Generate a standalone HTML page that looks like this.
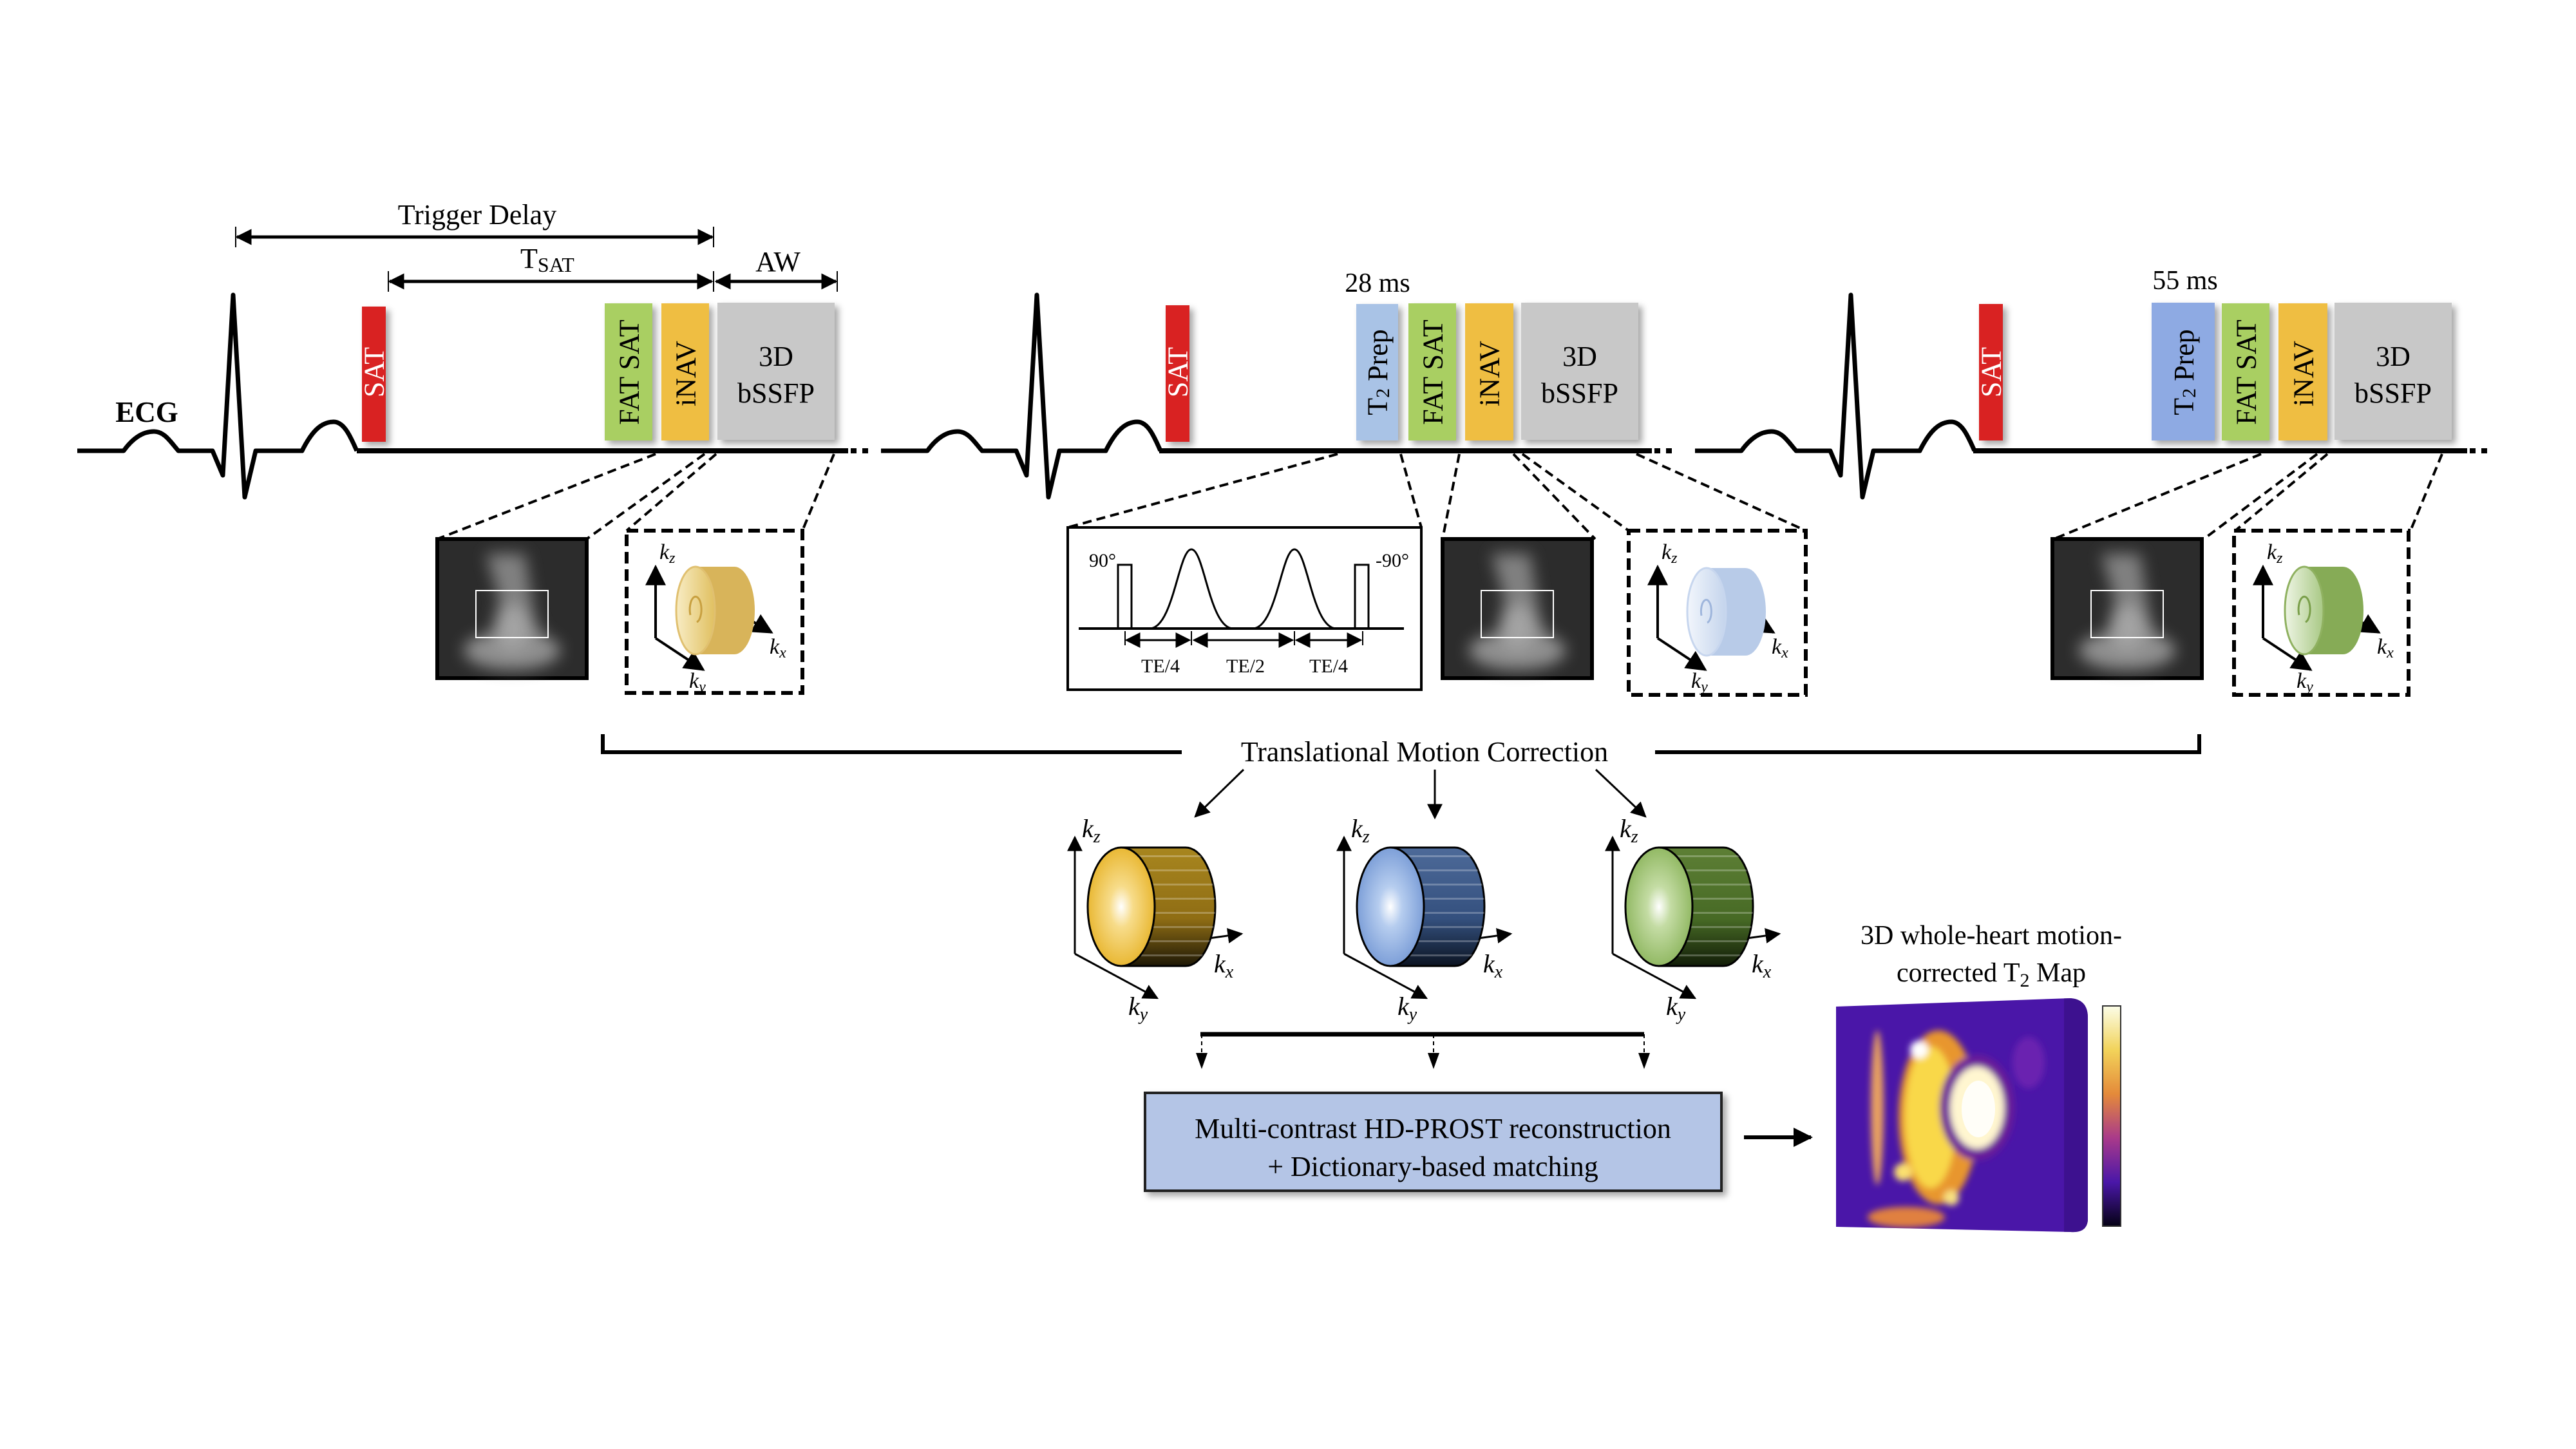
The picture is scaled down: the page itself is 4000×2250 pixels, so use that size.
<!DOCTYPE html>
<html><head><meta charset="utf-8"><style>
html,body{margin:0;padding:0;background:#fff}
svg{display:block}
text{font-family:"Liberation Serif",serif}
</style></head><body>
<svg width="4000" height="2250" viewBox="0 0 4000 2250" xmlns="http://www.w3.org/2000/svg">
<defs>
<marker id="ah" viewBox="0 0 10 10" refX="9" refY="5" markerWidth="5" markerHeight="5" orient="auto-start-reverse" markerUnits="strokeWidth"><path d="M0,0 L10,5 L0,10 z" fill="#000"/></marker>
<marker id="ah2" viewBox="0 0 10 10" refX="9" refY="5" markerWidth="8" markerHeight="8" orient="auto-start-reverse" markerUnits="strokeWidth"><path d="M0,0 L10,5 L0,10 z" fill="#000"/></marker>
<filter id="sh" x="-20%" y="-20%" width="150%" height="150%"><feDropShadow dx="6" dy="6" stdDeviation="5" flood-color="#000" flood-opacity="0.35"/></filter>
<filter id="bl" x="-50%" y="-50%" width="200%" height="200%"><feGaussianBlur stdDeviation="12"/></filter>
<filter id="bl2" x="-50%" y="-50%" width="200%" height="200%"><feGaussianBlur stdDeviation="5"/></filter>
<radialGradient id="fy" cx="50%" cy="50%" r="50%"><stop offset="0" stop-color="#fff"/><stop offset="0.35" stop-color="#f7dc8a"/><stop offset="1" stop-color="#e9b834"/></radialGradient>
<radialGradient id="fb" cx="50%" cy="50%" r="50%"><stop offset="0" stop-color="#fff"/><stop offset="0.35" stop-color="#b6cdef"/><stop offset="1" stop-color="#7d9fd8"/></radialGradient>
<radialGradient id="fg" cx="50%" cy="50%" r="50%"><stop offset="0" stop-color="#fff"/><stop offset="0.35" stop-color="#c4dca4"/><stop offset="1" stop-color="#92b964"/></radialGradient>
<linearGradient id="by" x1="0" y1="0" x2="0" y2="1"><stop offset="0" stop-color="#a8861e"/><stop offset="0.6" stop-color="#8f6d14"/><stop offset="1" stop-color="#1e1806"/></linearGradient>
<linearGradient id="bb" x1="0" y1="0" x2="0" y2="1"><stop offset="0" stop-color="#4d6a99"/><stop offset="0.6" stop-color="#34507e"/><stop offset="1" stop-color="#0c1422"/></linearGradient>
<linearGradient id="bg" x1="0" y1="0" x2="0" y2="1"><stop offset="0" stop-color="#5d7f35"/><stop offset="0.6" stop-color="#476a25"/><stop offset="1" stop-color="#121d08"/></linearGradient>
<pattern id="stripes" width="20" height="22" patternUnits="userSpaceOnUse"><rect width="20" height="22" fill="none"/><rect y="8" width="20" height="3" fill="#fff" opacity="0.25"/></pattern>
<linearGradient id="cbar" x1="0" y1="0" x2="0" y2="1"><stop offset="0" stop-color="#fbfde8"/><stop offset="0.2" stop-color="#f2d35a"/><stop offset="0.4" stop-color="#e48a3a"/><stop offset="0.6" stop-color="#a93a8a"/><stop offset="0.8" stop-color="#4a17a8"/><stop offset="1" stop-color="#050214"/></linearGradient>
<linearGradient id="cy1" x1="0" y1="0" x2="1" y2="0"><stop offset="0" stop-color="#f8ecc4"/><stop offset="1" stop-color="#e0c060"/></linearGradient>
<linearGradient id="cy2" x1="0" y1="0" x2="1" y2="0"><stop offset="0" stop-color="#f2f6fc"/><stop offset="1" stop-color="#c4d4ec"/></linearGradient>
<linearGradient id="cy3" x1="0" y1="0" x2="1" y2="0"><stop offset="0" stop-color="#eef5e4"/><stop offset="1" stop-color="#a8c884"/></linearGradient>
<clipPath id="mapclip"><path d="M2851,1563 L3215,1550 Q3242,1552 3242,1580 L3242,1895 Q3240,1915 3215,1913 L2851,1905 Z"/></clipPath>
<g id="ecg"><path d="M120,700 L192,700 C205,682 220,670 239,670 C256,670 266,688 277,700 L330,700 L346,738 L362,458 L380,772 L397,700 L469,700 C485,668 500,655 518,655 C535,655 545,680 554,700" fill="none" stroke="#000" stroke-width="7" stroke-linejoin="round"/></g>
</defs>

<use href="#ecg"/>
<use href="#ecg" transform="translate(1248,0)"/>
<use href="#ecg" transform="translate(2512,0)"/>
<line x1="554" y1="700" x2="1317" y2="700" stroke="#000" stroke-width="8"/>
<line x1="1321" y1="700" x2="1350" y2="700" stroke="#000" stroke-width="8" stroke-dasharray="9,9"/>
<line x1="1800" y1="700" x2="2565" y2="700" stroke="#000" stroke-width="8"/>
<line x1="2569" y1="700" x2="2600" y2="700" stroke="#000" stroke-width="8" stroke-dasharray="9,9"/>
<line x1="3064" y1="700" x2="3831" y2="700" stroke="#000" stroke-width="8"/>
<line x1="3835" y1="700" x2="3866" y2="700" stroke="#000" stroke-width="8" stroke-dasharray="9,9"/>
<text x="228" y="655" font-size="45" font-weight="bold" text-anchor="middle">ECG</text>

<text x="741" y="348" font-size="44" text-anchor="middle">Trigger Delay</text>
<line x1="366" y1="352" x2="366" y2="384" stroke="#000" stroke-width="2"/>
<line x1="1108" y1="352" x2="1108" y2="384" stroke="#000" stroke-width="2"/>
<line x1="368" y1="368" x2="1106" y2="368" stroke="#000" stroke-width="5" marker-start="url(#ah)" marker-end="url(#ah)"/>
<text x="808" y="416" font-size="44">T<tspan font-size="32" dy="6">SAT</tspan></text>
<line x1="603" y1="421" x2="603" y2="453" stroke="#000" stroke-width="2"/>
<line x1="1108" y1="421" x2="1108" y2="453" stroke="#000" stroke-width="2"/>
<line x1="1300" y1="421" x2="1300" y2="453" stroke="#000" stroke-width="2"/>
<line x1="605" y1="437" x2="1105" y2="437" stroke="#000" stroke-width="5" marker-start="url(#ah)" marker-end="url(#ah)"/>
<line x1="1112" y1="437" x2="1298" y2="437" stroke="#000" stroke-width="5" marker-start="url(#ah)" marker-end="url(#ah)"/>
<text x="1208" y="421" font-size="44" text-anchor="middle">AW</text>

<g filter="url(#sh)">
<rect x="562" y="476" width="37" height="210" fill="#d92123"/>
<rect x="939" y="471" width="74" height="213" fill="#a9cf62"/>
<rect x="1027" y="471" width="74" height="213" fill="#efbe42"/>
<rect x="1114" y="470" width="182" height="213" fill="#c8c8c8"/>
<rect x="1810" y="474" width="37" height="212" fill="#d92123"/>
<rect x="2106" y="472" width="65" height="212" fill="#a9c3e6"/>
<rect x="2187" y="471" width="74" height="213" fill="#a9cf62"/>
<rect x="2275" y="471" width="75" height="213" fill="#efbe42"/>
<rect x="2362" y="470" width="182" height="213" fill="#c8c8c8"/>
<rect x="3073" y="472" width="37" height="212" fill="#d92123"/>
<rect x="3341" y="470" width="98" height="214" fill="#8eaae3"/>
<rect x="3450" y="471" width="74" height="213" fill="#a9cf62"/>
<rect x="3538" y="471" width="76" height="213" fill="#efbe42"/>
<rect x="3625" y="470" width="182" height="213" fill="#c8c8c8"/>
</g>
<g font-size="44" text-anchor="middle" dominant-baseline="central">
<text transform="translate(581,578) rotate(-90)" fill="#fff">SAT</text>
<text transform="translate(977,578) rotate(-90)">FAT SAT</text>
<text transform="translate(1065,580) rotate(-90)">iNAV</text>
<text transform="translate(1829,578) rotate(-90)" fill="#fff">SAT</text>
<text transform="translate(2139,578) rotate(-90)">T<tspan font-size="30" dy="8">2</tspan><tspan dy="-8"> Prep</tspan></text>
<text transform="translate(2225,578) rotate(-90)">FAT SAT</text>
<text transform="translate(2313,580) rotate(-90)">iNAV</text>
<text transform="translate(3092,578) rotate(-90)" fill="#fff">SAT</text>
<text transform="translate(3391,578) rotate(-90)">T<tspan font-size="30" dy="8">2</tspan><tspan dy="-8"> Prep</tspan></text>
<text transform="translate(3488,578) rotate(-90)">FAT SAT</text>
<text transform="translate(3577,580) rotate(-90)">iNAV</text>
</g>
<g font-size="44" text-anchor="middle">
<text x="1205" y="568">3D</text><text x="1205" y="625">bSSFP</text>
<text x="2453" y="568">3D</text><text x="2453" y="625">bSSFP</text>
<text x="3716" y="568">3D</text><text x="3716" y="625">bSSFP</text>
<text x="2139" y="453" font-size="42">28 ms</text>
<text x="3393" y="449" font-size="42">55 ms</text>
</g>

<g stroke="#000" stroke-width="4" stroke-dasharray="14,8" fill="none">
<line x1="1018" y1="705" x2="679" y2="837"/>
<line x1="1094" y1="705" x2="911" y2="837"/>
<line x1="1112" y1="705" x2="973" y2="824"/>
<line x1="1295" y1="705" x2="1246" y2="824"/>
<line x1="2077" y1="705" x2="1658" y2="819"/>
<line x1="2175" y1="705" x2="2207" y2="819"/>
<line x1="2266" y1="705" x2="2240" y2="837"/>
<line x1="2350" y1="705" x2="2477" y2="837"/>
<line x1="2364" y1="705" x2="2529" y2="824"/>
<line x1="2541" y1="705" x2="2804" y2="824"/>
<line x1="3511" y1="705" x2="3189" y2="837"/>
<line x1="3598" y1="705" x2="3422" y2="837"/>
<line x1="3614" y1="705" x2="3471" y2="824"/>
<line x1="3792" y1="705" x2="3743" y2="824"/>
<rect x="973" y="824" width="273" height="252" stroke-width="6" stroke-dasharray="18,9"/>
<rect x="2529" y="824" width="275" height="255" stroke-width="6" stroke-dasharray="18,9"/>
<rect x="3469" y="824" width="271" height="255" stroke-width="6" stroke-dasharray="18,9"/>
</g>

<g id="img1">
<rect x="679" y="837" width="232" height="216" fill="#2c2c2c" stroke="#000" stroke-width="6"/>
<g filter="url(#bl)" opacity="0.9">
<path d="M755,860 L815,860 L830,960 L845,990 L770,990 L775,930 Z" fill="#8a8a8a"/>
<ellipse cx="795" cy="1010" rx="75" ry="30" fill="#9a9a9a"/>
<ellipse cx="795" cy="975" rx="28" ry="35" fill="#b0b0b0"/>
</g>
<rect x="739" y="917" width="112" height="73" fill="none" stroke="#fff" stroke-width="2"/>
</g>
<use href="#img1" transform="translate(1561,0)"/>
<use href="#img1" transform="translate(2508,0)"/>

<g id="axs" stroke="#000" stroke-width="4" fill="none">
<line x1="1018" y1="991" x2="1018" y2="880" marker-end="url(#ah2)"/>
<line x1="1018" y1="991" x2="1092" y2="1040" marker-end="url(#ah2)"/>
<line x1="1160" y1="960" x2="1198" y2="982" marker-end="url(#ah2)"/>
</g>
<g font-size="34" font-style="italic">
<text x="1024" y="868">k<tspan font-size="24" dy="6">z</tspan></text>
<text x="1195" y="1015">k<tspan font-size="24" dy="6">x</tspan></text>
<text x="1070" y="1068">k<tspan font-size="24" dy="6">y</tspan></text>
</g>
<path d="M1080,880 L1140,880 A32,68 0 0 1 1140,1016 L1080,1016 Z" fill="#d8b45a"/>
<ellipse cx="1080" cy="948" rx="30" ry="68" fill="url(#cy1)" stroke="#e0c070" stroke-width="3"/>
<path d="M1072,955 a9,20 0 1 1 10,11" fill="none" stroke="#c8a040" stroke-width="3"/>

<use href="#axs" transform="translate(1556,0)"/>
<g font-size="34" font-style="italic">
<text x="2580" y="868">k<tspan font-size="24" dy="6">z</tspan></text>
<text x="2751" y="1015">k<tspan font-size="24" dy="6">x</tspan></text>
<text x="2626" y="1068">k<tspan font-size="24" dy="6">y</tspan></text>
</g>
<path d="M2650,882 L2710,882 A32,68 0 0 1 2710,1018 L2650,1018 Z" fill="#b8cbe8"/>
<ellipse cx="2650" cy="950" rx="30" ry="68" fill="url(#cy2)" stroke="#c7d6ee" stroke-width="3"/>
<path d="M2642,956 a8,18 0 1 1 9,11" fill="none" stroke="#9fb6dc" stroke-width="3"/>

<use href="#axs" transform="translate(2496,0)"/>
<g font-size="34" font-style="italic">
<text x="3520" y="868">k<tspan font-size="24" dy="6">z</tspan></text>
<text x="3691" y="1015">k<tspan font-size="24" dy="6">x</tspan></text>
<text x="3566" y="1068">k<tspan font-size="24" dy="6">y</tspan></text>
</g>
<path d="M3578,880 L3638,880 A32,68 0 0 1 3638,1016 L3578,1016 Z" fill="#86ab56"/>
<ellipse cx="3578" cy="948" rx="30" ry="68" fill="url(#cy3)" stroke="#8fb160" stroke-width="3"/>
<path d="M3570,955 a9,20 0 1 1 10,11" fill="none" stroke="#7a9f4a" stroke-width="3"/>

<rect x="1658" y="819" width="549" height="252" fill="#fff" stroke="#000" stroke-width="4"/>
<line x1="1675" y1="976" x2="2180" y2="976" stroke="#000" stroke-width="4"/>
<rect x="1736" y="877" width="21" height="99" fill="none" stroke="#000" stroke-width="3"/>
<rect x="2104" y="877" width="21" height="99" fill="none" stroke="#000" stroke-width="3"/>
<path d="M1785,976 C1822,976 1830,853 1850,853 C1870,853 1878,976 1915,976" fill="none" stroke="#000" stroke-width="3"/>
<path d="M1945,976 C1982,976 1990,853 2010,853 C2030,853 2038,976 2075,976" fill="none" stroke="#000" stroke-width="3"/>
<g font-size="30" text-anchor="middle">
<text x="1712" y="880">90°</text><text x="2162" y="880">-90°</text>
<text x="1802" y="1044">TE/4</text><text x="1934" y="1044">TE/2</text><text x="2063" y="1044">TE/4</text>
</g>
<g stroke="#000" stroke-width="2">
<line x1="1747" y1="980" x2="1747" y2="1002"/><line x1="1850" y1="980" x2="1850" y2="1002"/>
<line x1="2010" y1="980" x2="2010" y2="1002"/><line x1="2116" y1="980" x2="2116" y2="1002"/>
</g>
<g stroke="#000" stroke-width="3">
<line x1="1749" y1="994" x2="1847" y2="994" marker-start="url(#ah2)" marker-end="url(#ah2)"/>
<line x1="1854" y1="994" x2="2007" y2="994" marker-start="url(#ah2)" marker-end="url(#ah2)"/>
<line x1="2013" y1="994" x2="2113" y2="994" marker-start="url(#ah2)" marker-end="url(#ah2)"/>
</g>

<g stroke="#000" stroke-width="6" fill="none">
<polyline points="936,1140 936,1168 1835,1168"/>
<polyline points="2570,1168 3415,1168 3415,1140"/>
</g>
<text x="2212" y="1182" font-size="44" text-anchor="middle">Translational Motion Correction</text>
<g stroke="#000" stroke-width="3">
<line x1="1931" y1="1195" x2="1856" y2="1268" marker-end="url(#ah2)"/>
<line x1="2228" y1="1195" x2="2228" y2="1270" marker-end="url(#ah2)"/>
<line x1="2478" y1="1195" x2="2555" y2="1268" marker-end="url(#ah2)"/>
</g>

<g id="bigax" stroke="#000" stroke-width="3" fill="none">
<line x1="1669" y1="1481" x2="1669" y2="1300" marker-end="url(#ah2)"/>
<line x1="1669" y1="1481" x2="1797" y2="1550" marker-end="url(#ah2)"/>
<line x1="1870" y1="1458" x2="1928" y2="1450" marker-end="url(#ah2)"/>
</g>
<use href="#bigax" transform="translate(418,0)"/>
<use href="#bigax" transform="translate(835,0)"/>
<g font-size="40" font-style="italic">
<text x="1680" y="1300">k<tspan font-size="28" dy="8">z</tspan></text>
<text x="1885" y="1510">k<tspan font-size="28" dy="8">x</tspan></text>
<text x="1752" y="1576">k<tspan font-size="28" dy="8">y</tspan></text>
<text x="2098" y="1300">k<tspan font-size="28" dy="8">z</tspan></text>
<text x="2303" y="1510">k<tspan font-size="28" dy="8">x</tspan></text>
<text x="2170" y="1576">k<tspan font-size="28" dy="8">y</tspan></text>
<text x="2515" y="1300">k<tspan font-size="28" dy="8">z</tspan></text>
<text x="2720" y="1510">k<tspan font-size="28" dy="8">x</tspan></text>
<text x="2587" y="1576">k<tspan font-size="28" dy="8">y</tspan></text>
</g>
<path d="M1741,1316 L1841,1316 A46,92 0 0 1 1841,1500 L1741,1500 Z" fill="url(#by)" stroke="#000" stroke-width="3"/>
<path d="M1741,1316 L1841,1316 A46,92 0 0 1 1841,1500 L1741,1500 Z" fill="url(#stripes)"/>
<ellipse cx="1741" cy="1408" rx="52" ry="92" fill="url(#fy)" stroke="#000" stroke-width="3"/>
<path d="M2159,1316 L2259,1316 A46,92 0 0 1 2259,1500 L2159,1500 Z" fill="url(#bb)" stroke="#000" stroke-width="3"/>
<path d="M2159,1316 L2259,1316 A46,92 0 0 1 2259,1500 L2159,1500 Z" fill="url(#stripes)"/>
<ellipse cx="2159" cy="1408" rx="52" ry="92" fill="url(#fb)" stroke="#000" stroke-width="3"/>
<path d="M2576,1316 L2676,1316 A46,92 0 0 1 2676,1500 L2576,1500 Z" fill="url(#bg)" stroke="#000" stroke-width="3"/>
<path d="M2576,1316 L2676,1316 A46,92 0 0 1 2676,1500 L2576,1500 Z" fill="url(#stripes)"/>
<ellipse cx="2576" cy="1408" rx="52" ry="92" fill="url(#fg)" stroke="#000" stroke-width="3"/>

<line x1="1864" y1="1606" x2="2553" y2="1606" stroke="#000" stroke-width="7"/>
<g stroke="#000" stroke-width="2" stroke-dasharray="6,5">
<line x1="1866" y1="1606" x2="1866" y2="1640"/><line x1="2226" y1="1606" x2="2226" y2="1640"/><line x1="2553" y1="1606" x2="2553" y2="1640"/>
</g>
<g fill="#000">
<path d="M1857,1635 L1875,1635 L1866,1660 Z"/><path d="M2217,1635 L2235,1635 L2226,1660 Z"/><path d="M2544,1635 L2562,1635 L2553,1660 Z"/>
</g>
<rect x="1778" y="1697" width="895" height="152" fill="#b4c5e6" stroke="#222" stroke-width="4" filter="url(#sh)"/>
<text x="2225" y="1767" font-size="44" text-anchor="middle">Multi-contrast HD-PROST reconstruction</text>
<text x="2225" y="1826" font-size="44" text-anchor="middle">+ Dictionary-based matching</text>
<line x1="2708" y1="1766" x2="2812" y2="1766" stroke="#000" stroke-width="6" marker-end="url(#ah)"/>

<text x="3092" y="1466" font-size="42" text-anchor="middle">3D whole-heart motion-</text>
<text x="3092" y="1524" font-size="42" text-anchor="middle">corrected T<tspan font-size="30" dy="8">2</tspan><tspan dy="-8"> Map</tspan></text>
<g clip-path="url(#mapclip)">
<rect x="2840" y="1540" width="420" height="390" fill="#4a16a8"/>
<rect x="3205" y="1540" width="50" height="390" fill="#3a1088" opacity="0.8"/>
<g filter="url(#bl2)">
<ellipse cx="3010" cy="1735" rx="62" ry="135" fill="#e8962e"/>
<ellipse cx="2998" cy="1735" rx="40" ry="110" fill="#f9d848"/>
<ellipse cx="3070" cy="1720" rx="58" ry="82" fill="#6a1a9a"/>
<ellipse cx="3070" cy="1720" rx="42" ry="64" fill="#fff6d0"/>
<ellipse cx="2915" cy="1720" rx="10" ry="120" fill="#e8a060"/>
<ellipse cx="2960" cy="1890" rx="60" ry="16" fill="#e08040"/>
<ellipse cx="3150" cy="1650" rx="25" ry="40" fill="#6a24b0"/>
<circle cx="2980" cy="1630" r="14" fill="#fff"/>
<circle cx="3030" cy="1860" r="12" fill="#f8e080"/>
<circle cx="2955" cy="1820" r="14" fill="#fbe070"/>
</g>
<ellipse cx="3072" cy="1722" rx="26" ry="44" fill="#fff" opacity="0.85"/>
</g>
<rect x="3265" y="1562" width="28" height="342" fill="url(#cbar)" stroke="#333" stroke-width="2"/>
</svg>
</body></html>
